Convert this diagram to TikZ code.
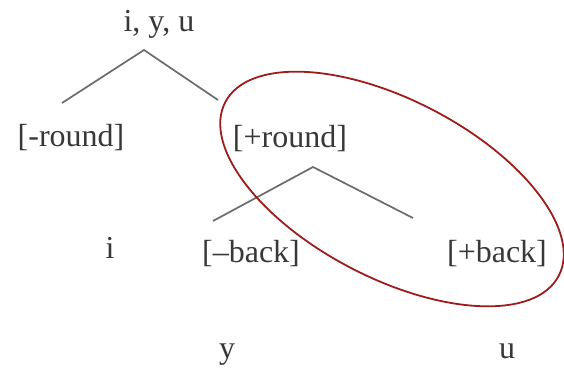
\documentclass[tikz,border=0pt]{standalone}
\usepackage{fontspec}
\setmainfont{Liberation Serif}
\definecolor{ringred}{RGB}{158,28,28}
\begin{document}
\begin{tikzpicture}[x=1pt,y=-1pt,
  lbl/.style={inner sep=0pt, anchor=base, text=black!78, font=\fontsize{32}{38}\selectfont},
  branch/.style={draw=black!58, line width=1.7pt},
  ring/.style={draw=ringred, line width=1.8pt}]
\useasboundingbox (0,0) rectangle (564,370);
% text nodes (positioned at their baselines)
\node[lbl] (top) at (159,31) {i, y, u};
\node[lbl] (mround) at (71,146) {[-round]};
\node[lbl] (pround) at (290,147) {[+round]};
\node[lbl] (mback) at (251,262) {[–back]};
\node[lbl] (pback) at (497,262) {[+back]};
\node[lbl] (i) at (110,258) {i};
\node[lbl] (y) at (227,358) {y};
\node[lbl] (u) at (507,358) {u};
% branch points
\coordinate (a1) at (144,50);
\coordinate (l1) at (62,103);
\coordinate (r1) at (218,100);
\coordinate (a2) at (313,167);
\coordinate (l2) at (213,221);
\coordinate (r2) at (413,218);
\draw[branch] (l1) -- (a1) -- (r1);
\draw[branch] (l2) -- (a2) -- (r2);
% ellipse
\coordinate (c) at (392,189);
\draw[ring, rotate around={-27.5:(c)}] (c) ellipse [x radius=188pt, y radius=89pt];
\end{tikzpicture}
\end{document}
